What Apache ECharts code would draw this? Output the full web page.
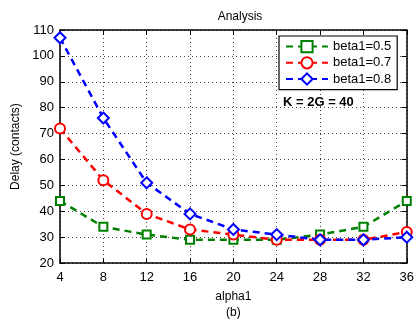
<!DOCTYPE html>
<html><head><meta charset="utf-8">
<script src="https://cdn.jsdelivr.net/npm/echarts@6/dist/echarts.min.js"></script>
<style>html,body{margin:0;padding:0;background:#fff}#c{width:417px;height:326px}</style>
</head><body><div id="c"></div>
<script>
const alpha = [4, 8, 12, 16, 20, 24, 28, 32, 36];
const beta05 = [44, 34, 31, 29, 29, 29, 31, 34, 44];
const beta07 = [72, 52, 39, 33, 31, 29, 29, 29, 32];
const beta08 = [107, 76, 51, 39, 33, 31, 29, 29, 30];
const seriesNames = ['beta1=0.5', 'beta1=0.7', 'beta1=0.8'];
const colors = ['#008000', '#ff0000', '#0000ff'];
const symbols = ['emptyRect', 'emptyCircle', 'emptyDiamond'];
const symSizes = [8, 10, 11];
const allData = [beta05, beta07, beta08];

const font = 'Liberation Sans, Arial, Helvetica, sans-serif';
const chart = echarts.init(document.getElementById('c'));
const axisLine = {show: true, lineStyle: {color: '#000', width: 1.5}};
const split = {show: true, lineStyle: {color: '#444', type: [1, 3], width: 1}};
chart.setOption({
  animation: false,
  title: {text: 'Analysis', left: 235, textAlign: 'center', top: 6,
    textStyle: {fontFamily: font, fontSize: 12, fontWeight: 'normal', color: '#000'}},
  grid: {left: 60, right: 6, top: 30, bottom: 57},
  legend: {
    orient: 'vertical', left: 279, top: 36, width: 128,
    padding: [4, 6, 4, 6], itemGap: 3, itemWidth: 42, itemHeight: 14,
    backgroundColor: '#fff', borderColor: '#000', borderWidth: 1.2,
    textStyle: {fontFamily: font, fontSize: 13, color: '#000'},
    data: seriesNames
  },
  xAxis: [{
    type: 'value', min: 4, max: 36, interval: 4, position: 'bottom',
    name: 'alpha1\n(b)', nameLocation: 'middle', nameGap: 22,
    nameTextStyle: {fontFamily: font, fontSize: 12, color: '#000', lineHeight: 16, verticalAlign: 'top'},
    axisLine: axisLine, axisTick: {inside: true, length: 5, lineStyle: {color: '#000'}},
    axisLabel: {fontFamily: font, fontSize: 13, color: '#000', margin: 8},
    splitLine: split
  }, {
    type: 'value', min: 4, max: 36, interval: 4, position: 'top',
    axisLine: axisLine, axisTick: {inside: true, length: 5, lineStyle: {color: '#000'}},
    axisLabel: {show: false}, splitLine: {show: false}
  }],
  yAxis: [{
    type: 'value', min: 20, max: 110, interval: 10, position: 'left',
    name: 'Delay (contacts)', nameLocation: 'middle', nameGap: 36,
    nameTextStyle: {fontFamily: font, fontSize: 12, color: '#000'},
    axisLine: axisLine, axisTick: {inside: true, length: 5, lineStyle: {color: '#000'}},
    axisLabel: {fontFamily: font, fontSize: 13, color: '#000', margin: 6},
    splitLine: split
  }, {
    type: 'value', min: 20, max: 110, interval: 10, position: 'right',
    axisLine: axisLine, axisTick: {inside: true, length: 5, lineStyle: {color: '#000'}},
    axisLabel: {show: false}, splitLine: {show: false}
  }],
  series: allData.map((d, i) => ({
    name: seriesNames[i], type: 'line',
    data: alpha.map((a, j) => [a, d[j]]),
    symbol: symbols[i], symbolSize: symSizes[i],
    lineStyle: {color: colors[i], width: 2.5, type: [7, 5]},
    itemStyle: {color: colors[i], borderWidth: 2.2, borderColor: colors[i]},
    z: 3 + i
  })),
  graphic: [{
    type: 'text', left: 283, top: 96,
    style: {text: 'K = 2G = 40', fontFamily: font, fontSize: 13, fontWeight: 'bold', fill: '#000'}
  }]
});
</script></body></html>
